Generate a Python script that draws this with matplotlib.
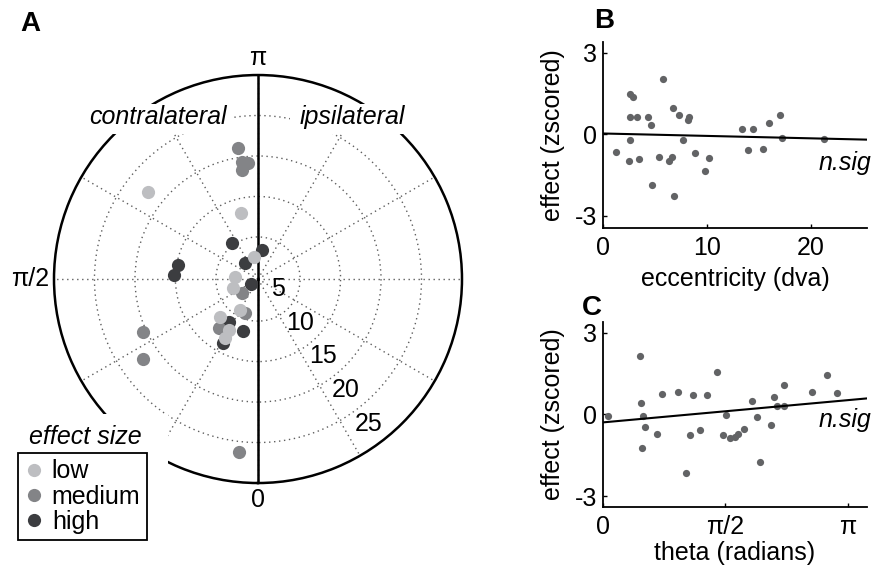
import numpy as np
import matplotlib
matplotlib.use('Agg')
import matplotlib.pyplot as plt
from matplotlib.patches import Rectangle
from matplotlib.lines import Line2D
import matplotlib.transforms as mtransforms

plt.rcParams['font.family'] = ['Liberation Sans', 'DejaVu Sans']
plt.rcParams['font.size'] = 18
plt.rcParams['axes.unicode_minus'] = False

# polar panel: angle (deg, 0 at bottom, pi at top) and eccentricity per effect group
low_theta = [128.3, 165.6, 169.7, 95.0, 70.2, 30.1, 45.0, 29.6, 29.2]
low_r = [22.1, 13.2, 7.6, 7.65, 8.1, 9.2, 11.4, 12.05, 13.15]
med_theta = [171.3, 172.2, 175.1, 171.6, 48.8, 20.9, 38.5, 65.3, 55.2, 6.3]
med_r = [21.2, 19.4, 19.2, 18.4, 7.4, 9.3, 12.5, 20.4, 22.1, 26.3]
high_theta = [144.2, 187.9, 140.9, 99.9, 92.7, 54.5, 34.0, 16.1, 28.7]
high_r = [10.3, 8.4, 7.35, 14.8, 15.2, 5.9, 11.2, 11.5, 13.8]
r_ticks = [5, 10, 15, 20, 25]
theta_labels = [(0, '0'), (90, 'π/2'), (180, 'π')]

# panel B: eccentricity vs effect
ecc = [1.25, 2.47, 2.6, 2.9, 2.6, 3.3, 2.6, 3.5, 4.36, 4.6, 4.7, 5.4, 5.8, 6.4, 6.6, 6.7,
       6.8, 7.3, 7.7, 8.2, 8.3, 8.9, 9.8, 10.2, 13.4, 14.4, 14.0, 15.4, 16.0, 17.0, 17.2, 21.3]
eff_b = [-0.65, -0.99, 1.48, 1.36, 0.64, 0.63, -0.2, -0.9, 0.63, 0.33, -1.85, -0.85, 2.05, -0.97,
         -0.85, 0.97, -2.28, 0.72, -0.21, 0.54, 0.62, -0.69, -1.36, -0.87, 0.2, 0.21, -0.56,
         -0.53, 0.4, 0.7, -0.13, -0.18]
fit_b = [0.03, -0.0089]   # intercept, slope

# panel C: theta vs effect
theta_c = [0.07, 0.47, 0.49, 0.51, 0.54, 0.50, 0.69, 0.76, 0.96, 1.07, 1.12, 1.16, 1.25, 1.33,
           1.46, 1.54, 1.58, 1.63, 1.70, 1.74, 1.81, 1.92, 1.98, 2.02, 2.16, 2.20, 2.23, 2.33,
           2.33, 2.68, 2.88, 3.00]
eff_c = [-0.05, 2.15, 0.43, -0.05, -0.45, -1.24, -0.73, 0.75, 0.84, -2.15, -0.76, 0.73, -0.57,
         0.73, 1.57, -0.76, -0.02, -0.88, -0.84, -0.71, -0.53, 0.51, -0.08, -1.73, -0.40, 0.65,
         0.31, 1.08, 0.32, 0.81, 1.46, 0.78]
fit_c = [-0.29, 0.26]

c_low, c_med, c_high = '#bdbec1', '#838487', '#3c3d40'
c_dot = '#626365'

fig = plt.figure(figsize=(8.75, 5.68), dpi=100)

# ---- A: polar
ax = fig.add_axes([0.0617, 0.1496, 0.4663, 0.7183], projection='polar')
ax.set_theta_zero_location('S')
ax.set_theta_direction(-1)
ax.set_ylim(4.8, 30)
ax.set_yticks(r_ticks)
ax.set_yticklabels([])
ax.set_xticks(np.deg2rad(np.arange(0, 360, 30)))
ax.set_xticklabels([])
ax.grid(True, color='#5e5e5e', linestyle=(0, (1, 2.6)), linewidth=1.0)
ax.spines['polar'].set_linewidth(1.8)
ax.plot([0, 0], [4.8, 30], color='black', lw=1.8, zorder=2)
ax.plot([np.pi, np.pi], [4.8, 30], color='black', lw=1.8, zorder=2)

for th, rr, col in [(high_theta, high_r, c_high), (med_theta, med_r, c_med), (low_theta, low_r, c_low)]:
    ax.plot(np.deg2rad(th), rr, 'o', color=col, ms=9.5, mec='none', zorder=3)

lab_tr = mtransforms.offset_copy(ax.transData, fig=fig, x=19, y=-9, units='dots')
for v in r_ticks:
    ax.text(np.deg2rad(-34), v, str(v), transform=lab_tr, ha='center', va='center', fontsize=18)

# angle labels just outside the rim
for deg, txt in theta_labels:
    ax.text(np.deg2rad(deg), 30.6, txt, ha='right' if deg == 90 else 'center',
            va='bottom' if deg == 180 else ('top' if deg == 0 else 'center'),
            fontsize=18, clip_on=False)

# white masks behind the polar labels
for (x0, y0, w, h) in [(85, 104, 147, 30), (290, 104, 120, 30), (10, 414, 158, 136)]:
    fig.add_artist(Rectangle((x0 / 875, 1 - (y0 + h) / 568), w / 875, h / 568,
                             transform=fig.transFigure, facecolor='white',
                             edgecolor='none', zorder=5))

fig.text(158 / 875, 1 - 117 / 568, 'contralateral', style='italic', ha='center', va='center', zorder=6)
fig.text(352 / 875, 1 - 117 / 568, 'ipsilateral', style='italic', ha='center', va='center', zorder=6)
fig.text(85 / 875, 1 - 437 / 568, 'effect size', style='italic', ha='center', va='center', zorder=6)

handles = [Line2D([], [], ls='none', marker='o', ms=9.5, color=c, mec='none')
           for c in (c_low, c_med, c_high)]
leg = fig.legend(handles, ['low', 'medium', 'high'], loc='upper left',
                 bbox_to_anchor=(18 / 875, 1 - 453 / 568), borderaxespad=0,
                 fancybox=False, edgecolor='black', framealpha=1, fontsize=18,
                 handlelength=0.8, handletextpad=0.3, borderpad=0.25, labelspacing=0.05)
leg.get_frame().set_linewidth(1.3)
leg.set_zorder(7)

# ---- B and C
def scatter_panel(rect, x, y, fit, xlim, ylim):
    a = fig.add_axes(rect)
    a.plot(x, y, 'o', color=c_dot, ms=5.2, mec='none')
    xs = np.array(xlim)
    a.plot(xs, fit[0] + fit[1] * xs, color='black', lw=1.5)
    a.set_xlim(xlim)
    a.set_ylim(ylim)
    a.set_yticks([-3, 0, 3])
    a.spines['top'].set_visible(False)
    a.spines['right'].set_visible(False)
    for s in ('left', 'bottom'):
        a.spines[s].set_linewidth(1.3)
    a.tick_params(direction='in', length=3, width=1, labelsize=18)
    a.tick_params(axis='x', pad=6)
    a.tick_params(axis='y', pad=4)
    a.set_ylabel('effect (zscored)', labelpad=7)
    return a

axb = scatter_panel([0.6891, 0.5986, 0.3017, 0.3275], ecc, eff_b, fit_b, (0, 25.4), (-3.45, 3.4))
axb.set_xticks([0, 10, 20])
axb.set_xlabel('eccentricity (dva)', labelpad=5)
axb.text(23.3, -1.07, 'n.sig', style='italic', ha='center', va='center')

axc = scatter_panel([0.6891, 0.1074, 0.3017, 0.3257], theta_c, eff_c, fit_c, (0, 3.39), (-3.4, 3.4))
axc.set_xticks([0, np.pi / 2, np.pi])
axc.set_xticklabels(['0', 'π/2', 'π'])
axc.set_xlabel('theta (radians)', labelpad=1)
axc.text(3.11, -0.2, 'n.sig', style='italic', ha='center', va='center')

fig.text(30.5 / 875, 1 - 24 / 568, 'A', fontsize=20, fontweight='bold', ha='center', va='center')
fig.text(604 / 875, 1 - 21 / 568, 'B', fontsize=20, fontweight='bold', ha='center', va='center')
fig.text(592 / 875, 1 - 308 / 568, 'C', fontsize=20, fontweight='bold', ha='center', va='center')

fig.savefig('out.png', dpi=100)
